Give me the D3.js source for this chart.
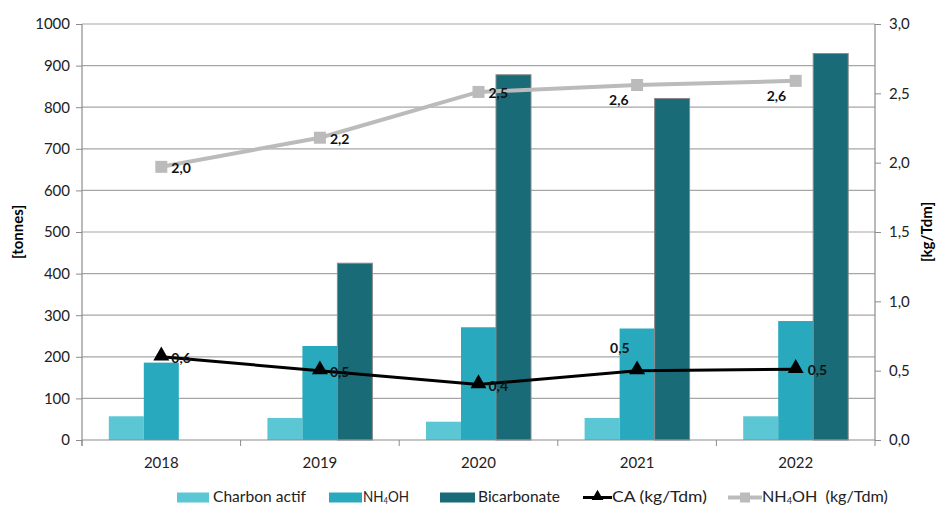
<!DOCTYPE html>
<html>
<head>
<meta charset="utf-8">
<script src="https://cdn.jsdelivr.net/npm/d3@7"></script>
<style>
  body { margin: 0; background: #fff; }
  svg text { font-family: Lato, "Open Sans", sans-serif; }
</style>
</head>
<body>
<svg id="chart" width="936" height="507"></svg>
<script>
// Consumption of reagents per year
const years = ["2018", "2019", "2020", "2021", "2022"];
const charbonActif = [57, 53, 44, 53, 57];
const nh4oh = [186, 226, 271, 268, 286];
const bicarbonate = [0, 425, 878, 821, 929];
// Specific ratios (kg/Tdm)
const caRatio = [0.6, 0.5, 0.4, 0.5, 0.51];
const nh4ohRatio = [1.97, 2.18, 2.51, 2.56, 2.59];
const caLabels = ["0,6", "0,5", "0,4", "0,5", "0,5"];
const nh4ohLabels = ["2,0", "2,2", "2,5", "2,6", "2,6"];
const leftTicks = [0, 100, 200, 300, 400, 500, 600, 700, 800, 900, 1000];
const rightTicks = [0, 0.5, 1.0, 1.5, 2.0, 2.5, 3.0];

const colors = { charbon: "#5BC6D4", nh4oh: "#28A9BD", bicarb: "#1A6B78", ca: "#000", nh4ohLine: "#BBBBBB" };

const svg = d3.select("#chart");
const m = { left: 82, right: 61, top: 24, bottom: 67 };
const W = 936, H = 507;
const iw = W - m.left - m.right, ih = H - m.top - m.bottom;
const g = svg.append("g").attr("transform", `translate(${m.left},${m.top})`);

const x = d3.scaleBand().domain(years).range([0, iw]);
const yL = d3.scaleLinear().domain([0, 1000]).range([ih, 0]);
const yR = d3.scaleLinear().domain([0, 3]).range([ih, 0]);
const barW = 35;
const fmt = d => d.toFixed(1).replace(".", ",");

// gridlines
g.append("g").selectAll("line").data(leftTicks.slice(1)).join("line")
  .attr("x1", 0).attr("x2", iw).attr("y1", d => yL(d)).attr("y2", d => yL(d))
  .attr("stroke", "#A6A6A6").attr("stroke-width", 1.2);

// bars
const series = [
  { vals: charbonActif, color: colors.charbon, stroke: "none" },
  { vals: nh4oh, color: colors.nh4oh, stroke: "none" },
  { vals: bicarbonate, color: colors.bicarb, stroke: "#8a8a8a" }
];
series.forEach((s, i) => {
  g.append("g").selectAll("rect").data(years).join("rect")
    .attr("x", (d) => x(d) + x.bandwidth() / 2 - 1.5 * barW + i * barW)
    .attr("width", barW)
    .attr("y", (d, j) => yL(s.vals[j]))
    .attr("height", (d, j) => ih - yL(s.vals[j]))
    .attr("fill", s.color)
    .attr("stroke", (d, j) => s.vals[j] > 0 ? s.stroke : "none")
    .attr("stroke-width", 1);
});

// left axis
const axL = g.append("g").call(d3.axisLeft(yL).tickValues(leftTicks).tickSize(6).tickPadding(6).tickFormat(d3.format("d")));
// right axis
const axR = g.append("g").attr("transform", `translate(${iw},0)`)
  .call(d3.axisRight(yR).tickValues(rightTicks).tickSize(6).tickPadding(8).tickFormat(fmt));
// bottom axis with ticks at category boundaries
const axB = g.append("g").attr("transform", `translate(0,${ih})`)
  .call(d3.axisBottom(x).tickSize(0).tickPadding(17));
g.append("g").selectAll("line").data(d3.range(years.length + 1)).join("line")
  .attr("x1", d => d * x.step()).attr("x2", d => d * x.step())
  .attr("y1", ih).attr("y2", ih + 6).attr("stroke", "#8c8c8c");
[axL, axR, axB].forEach(a => {
  a.selectAll(".domain").attr("stroke", "#8c8c8c").attr("stroke-width", 1.2);
  a.selectAll(".tick line").attr("stroke", "#8c8c8c");
  a.selectAll("text").attr("font-size", 15).attr("fill", "#222").style("font-family", "Lato, 'Open Sans', sans-serif");
});
axB.select(".domain").attr("d", `M0,0H${iw}`);
axR.select(".domain").attr("d", `M0,${ih}V0`);
axL.select(".domain").attr("d", `M0,${ih + 6}V0`);

// lines
const cx = d => x(d) + x.bandwidth() / 2;
const lineR = vals => d3.line().x((d, i) => cx(years[i])).y((d) => yR(d))(vals);
g.append("path").attr("d", lineR(nh4ohRatio)).attr("fill", "none")
  .attr("stroke", colors.nh4ohLine).attr("stroke-width", 4);
g.append("g").selectAll("rect").data(nh4ohRatio).join("rect")
  .attr("x", (d, i) => cx(years[i]) - 6).attr("y", d => yR(d) - 6)
  .attr("width", 12).attr("height", 12).attr("fill", colors.nh4ohLine);

g.append("path").attr("d", lineR(caRatio)).attr("fill", "none")
  .attr("stroke", colors.ca).attr("stroke-width", 3);
g.append("g").selectAll("path").data(caRatio).join("path")
  .attr("d", d3.symbol(d3.symbolTriangle, 110))
  .attr("transform", (d, i) => `translate(${cx(years[i])},${yR(d) - 1})`)
  .attr("fill", colors.ca);

// data labels
const caOff = [[10, 6], [10, 6], [10, 6], [-27, -18], [12, 6]];
const nhOff = [[10, 6], [10, 6], [10, 6], [-28, 20], [-29, 20]];
g.append("g").selectAll("text").data(caRatio).join("text")
  .attr("x", (d, i) => cx(years[i]) + caOff[i][0]).attr("y", (d, i) => yR(d) + caOff[i][1])
  .text((d, i) => caLabels[i]).attr("font-size", 14).attr("font-weight", "bold").attr("fill", "#111");
g.append("g").selectAll("text").data(nh4ohRatio).join("text")
  .attr("x", (d, i) => cx(years[i]) + nhOff[i][0]).attr("y", (d, i) => yR(d) + nhOff[i][1])
  .text((d, i) => nh4ohLabels[i]).attr("font-size", 14).attr("font-weight", "bold").attr("fill", "#111");

// axis titles
svg.append("text").attr("transform", `translate(23,${m.top + ih / 2}) rotate(-90)`)
  .attr("text-anchor", "middle").attr("font-size", 15).attr("font-weight", "bold").text("[tonnes]");
svg.append("text").attr("transform", `translate(932,${m.top + ih / 2}) rotate(-90)`)
  .attr("text-anchor", "middle").attr("font-size", 15).attr("font-weight", "bold").text("[kg/Tdm]");

// legend: each label is fitted to a fixed width
const lg = svg.append("g").attr("transform", "translate(0,496.5)");
function legendText(x0, width, parts) {
  const holder = lg.append("g").attr("transform", `translate(${x0},5.5)`);
  const t = holder.append("text").attr("font-size", 16).attr("fill", "#222");
  parts.forEach(p => {
    const ts = t.append("tspan").text(p.text);
    if (p.sub) ts.attr("font-size", 9).attr("dy", 2);
    if (p.after) ts.attr("dy", -2);
  });
  const w = t.node().getComputedTextLength();
  holder.attr("transform", `translate(${x0},5.5) scale(${width / w},1)`);
}
const swatches = [
  { x: 177, w: 32, color: colors.charbon, tx: 213, tw: 93, parts: [{ text: "Charbon actif" }] },
  { x: 329, w: 33, color: colors.nh4oh, tx: 363, tw: 46, parts: [{ text: "NH" }, { text: "4", sub: true }, { text: "OH", after: true }] },
  { x: 440, w: 35, color: colors.bicarb, tx: 478, tw: 82, parts: [{ text: "Bicarbonate" }] }
];
swatches.forEach(s => {
  lg.append("rect").attr("x", s.x).attr("y", -4).attr("width", s.w).attr("height", 10).attr("fill", s.color);
  legendText(s.tx, s.tw, s.parts);
});
// CA line legend
lg.append("line").attr("x1", 583).attr("x2", 612).attr("y1", 1).attr("y2", 1).attr("stroke", "#000").attr("stroke-width", 3);
lg.append("path").attr("d", d3.symbol(d3.symbolTriangle, 60)).attr("transform", "translate(597.5,0)").attr("fill", "#000");
legendText(612, 95, [{ text: "CA (kg/Tdm)" }]);
// NH4OH ratio legend
lg.append("line").attr("x1", 728).attr("x2", 762).attr("y1", 1).attr("y2", 1).attr("stroke", colors.nh4ohLine).attr("stroke-width", 4);
lg.append("rect").attr("x", 740).attr("y", -4).attr("width", 10).attr("height", 10).attr("fill", colors.nh4ohLine);
legendText(762, 126, [{ text: "NH" }, { text: "4", sub: true }, { text: "OH\u00a0\u00a0(kg/Tdm)", after: true }]);
</script>
</body>
</html>
